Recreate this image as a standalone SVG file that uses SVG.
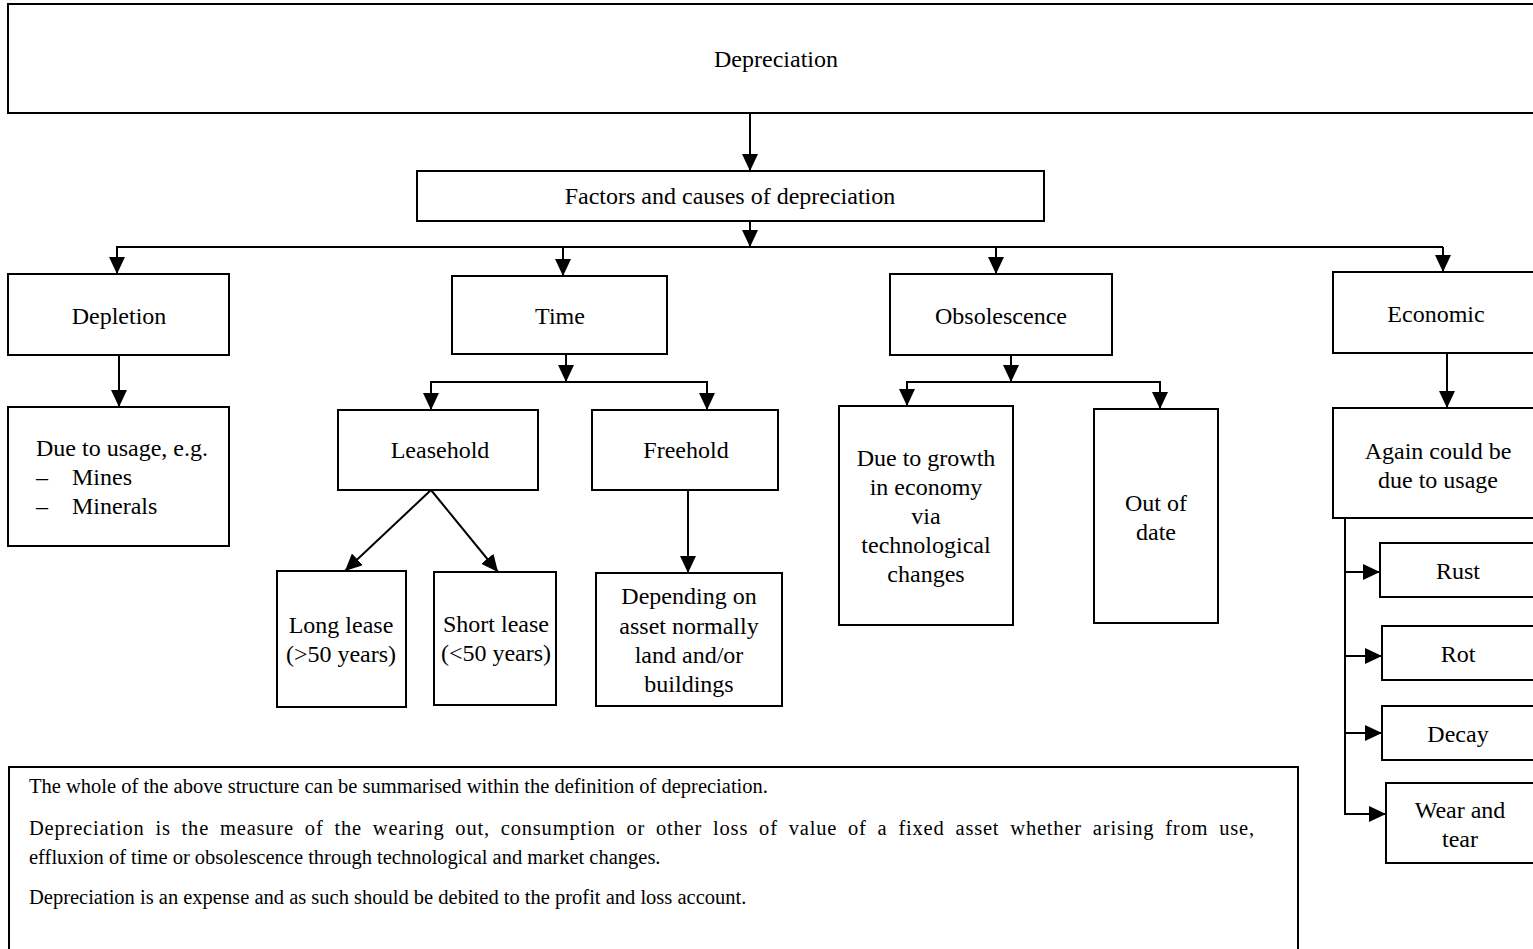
<svg xmlns="http://www.w3.org/2000/svg" width="1533" height="949" viewBox="0 0 1533 949">
<style>
  .box { fill: #fff; stroke: #000; stroke-width: 2; }
  .t { font-family: "Liberation Serif", "Times New Roman", serif; font-size: 24px; fill: #000; text-anchor: middle; }
  .tl { font-family: "Liberation Serif", "Times New Roman", serif; font-size: 24px; fill: #000; }
  .note { font-family: "Liberation Serif", "Times New Roman", serif; font-size: 20.5px; fill: #000; }
  .c { fill: none; stroke: #000; stroke-width: 2; }
  .ca { fill: none; stroke: #000; stroke-width: 2; marker-end: url(#arr); }
</style>
<defs>
  <marker id="arr" markerUnits="userSpaceOnUse" markerWidth="18" markerHeight="16" refX="17" refY="8" orient="auto" viewBox="0 0 18 16">
    <path d="M0,0 L17,8 L0,16 z" fill="#000"/>
  </marker>
</defs>
<rect width="1533" height="949" fill="#fff"/>

<g id="connectors">
  <line class="ca" x1="750" y1="113" x2="750" y2="171"/>
  <line class="ca" x1="750" y1="221" x2="750" y2="247"/>
  <polyline class="c" points="116,247 1443,247"/>
  <line class="ca" x1="117" y1="247" x2="117" y2="274"/>
  <line class="ca" x1="563" y1="247" x2="563" y2="276"/>
  <line class="ca" x1="996" y1="247" x2="996" y2="274"/>
  <line class="ca" x1="1443" y1="247" x2="1443" y2="272"/>

  <line class="ca" x1="119" y1="355" x2="119" y2="407"/>

  <line class="ca" x1="566" y1="354" x2="566" y2="382"/>
  <polyline class="c" points="431,382 707,382"/>
  <line class="ca" x1="431" y1="381" x2="431" y2="410"/>
  <line class="ca" x1="707" y1="381" x2="707" y2="410"/>
  <line class="ca" x1="431" y1="490" x2="345" y2="571"/>
  <line class="ca" x1="431" y1="490" x2="498" y2="572"/>
  <line class="ca" x1="688" y1="490" x2="688" y2="573"/>

  <line class="ca" x1="1011" y1="355" x2="1011" y2="382"/>
  <polyline class="c" points="907,382 1160,382"/>
  <line class="ca" x1="907" y1="381" x2="907" y2="406"/>
  <line class="ca" x1="1160" y1="381" x2="1160" y2="409"/>

  <line class="ca" x1="1447" y1="353" x2="1447" y2="408"/>
  <polyline class="c" points="1345,518 1345,814"/>
  <line class="ca" x1="1344" y1="572" x2="1380" y2="572"/>
  <line class="ca" x1="1344" y1="656" x2="1382" y2="656"/>
  <line class="ca" x1="1344" y1="733" x2="1382" y2="733"/>
  <line class="ca" x1="1344" y1="814" x2="1386" y2="814"/>
</g>

<g id="depreciation">
  <rect class="box" x="8" y="4" width="1540" height="109"/>
  <text class="t" x="776" y="67">Depreciation</text>
</g>
<g id="factors">
  <rect class="box" x="417" y="171" width="627" height="50"/>
  <text class="t" x="730" y="204">Factors and causes of depreciation</text>
</g>

<g id="depletion">
  <rect class="box" x="8" y="274" width="221" height="81"/>
  <text class="t" x="119" y="324">Depletion</text>
</g>
<g id="usage">
  <rect class="box" x="8" y="407" width="221" height="139"/>
  <text class="tl" x="36" y="456">Due to usage, e.g.</text>
  <text class="tl" x="36" y="485">–</text>
  <text class="tl" x="72" y="485">Mines</text>
  <text class="tl" x="36" y="514">–</text>
  <text class="tl" x="72" y="514">Minerals</text>
</g>

<g id="time">
  <rect class="box" x="452" y="276" width="215" height="78"/>
  <text class="t" x="560" y="324">Time</text>
</g>
<g id="leasehold">
  <rect class="box" x="338" y="410" width="200" height="80"/>
  <text class="t" x="440" y="458">Leasehold</text>
</g>
<g id="freehold">
  <rect class="box" x="592" y="410" width="186" height="80"/>
  <text class="t" x="686" y="458">Freehold</text>
</g>
<g id="longlease">
  <rect class="box" x="277" y="571" width="129" height="136"/>
  <text class="t" x="341" y="633">Long lease</text>
  <text class="t" x="341" y="662">(&gt;50 years)</text>
</g>
<g id="shortlease">
  <rect class="box" x="434" y="572" width="122" height="133"/>
  <text class="t" x="496" y="632">Short lease</text>
  <text class="t" x="496" y="661">(&lt;50 years)</text>
</g>
<g id="depending">
  <rect class="box" x="596" y="573" width="186" height="133"/>
  <text class="t" x="689" y="604">Depending on</text>
  <text class="t" x="689" y="634">asset normally</text>
  <text class="t" x="689" y="663">land and/or</text>
  <text class="t" x="689" y="692">buildings</text>
</g>

<g id="obsolescence">
  <rect class="box" x="890" y="274" width="222" height="81"/>
  <text class="t" x="1001" y="324">Obsolescence</text>
</g>
<g id="growth">
  <rect class="box" x="839" y="406" width="174" height="219"/>
  <text class="t" x="926" y="466">Due to growth</text>
  <text class="t" x="926" y="495">in economy</text>
  <text class="t" x="926" y="524">via</text>
  <text class="t" x="926" y="553">technological</text>
  <text class="t" x="926" y="582">changes</text>
</g>
<g id="outofdate">
  <rect class="box" x="1094" y="409" width="124" height="214"/>
  <text class="t" x="1156" y="511">Out of</text>
  <text class="t" x="1156" y="540">date</text>
</g>

<g id="economic">
  <rect class="box" x="1333" y="272" width="210" height="81"/>
  <text class="t" x="1436" y="322">Economic</text>
</g>
<g id="again">
  <rect class="box" x="1333" y="408" width="210" height="110"/>
  <text class="t" x="1438" y="459">Again could be</text>
  <text class="t" x="1438" y="488">due to usage</text>
</g>
<g id="rust">
  <rect class="box" x="1380" y="543" width="170" height="54"/>
  <text class="t" x="1458" y="579">Rust</text>
</g>
<g id="rot">
  <rect class="box" x="1382" y="626" width="170" height="54"/>
  <text class="t" x="1458" y="662">Rot</text>
</g>
<g id="decay">
  <rect class="box" x="1382" y="706" width="170" height="54"/>
  <text class="t" x="1458" y="742">Decay</text>
</g>
<g id="wear">
  <rect class="box" x="1386" y="783" width="170" height="80"/>
  <text class="t" x="1460" y="818">Wear and</text>
  <text class="t" x="1460" y="847">tear</text>
</g>

<g id="summary">
  <rect class="box" x="9" y="767" width="1289" height="200"/>
  <text class="note" x="29" y="793">The whole of the above structure can be summarised within the definition of depreciation.</text>
  <text class="note" x="29" y="835" word-spacing="5" textLength="1225" lengthAdjust="spacing">Depreciation is the measure of the wearing out, consumption or other loss of value of a fixed asset whether arising from use,</text>
  <text class="note" x="29" y="864">effluxion of time or obsolescence through technological and market changes.</text>
  <text class="note" x="29" y="904">Depreciation is an expense and as such should be debited to the profit and loss account.</text>
</g>
</svg>
